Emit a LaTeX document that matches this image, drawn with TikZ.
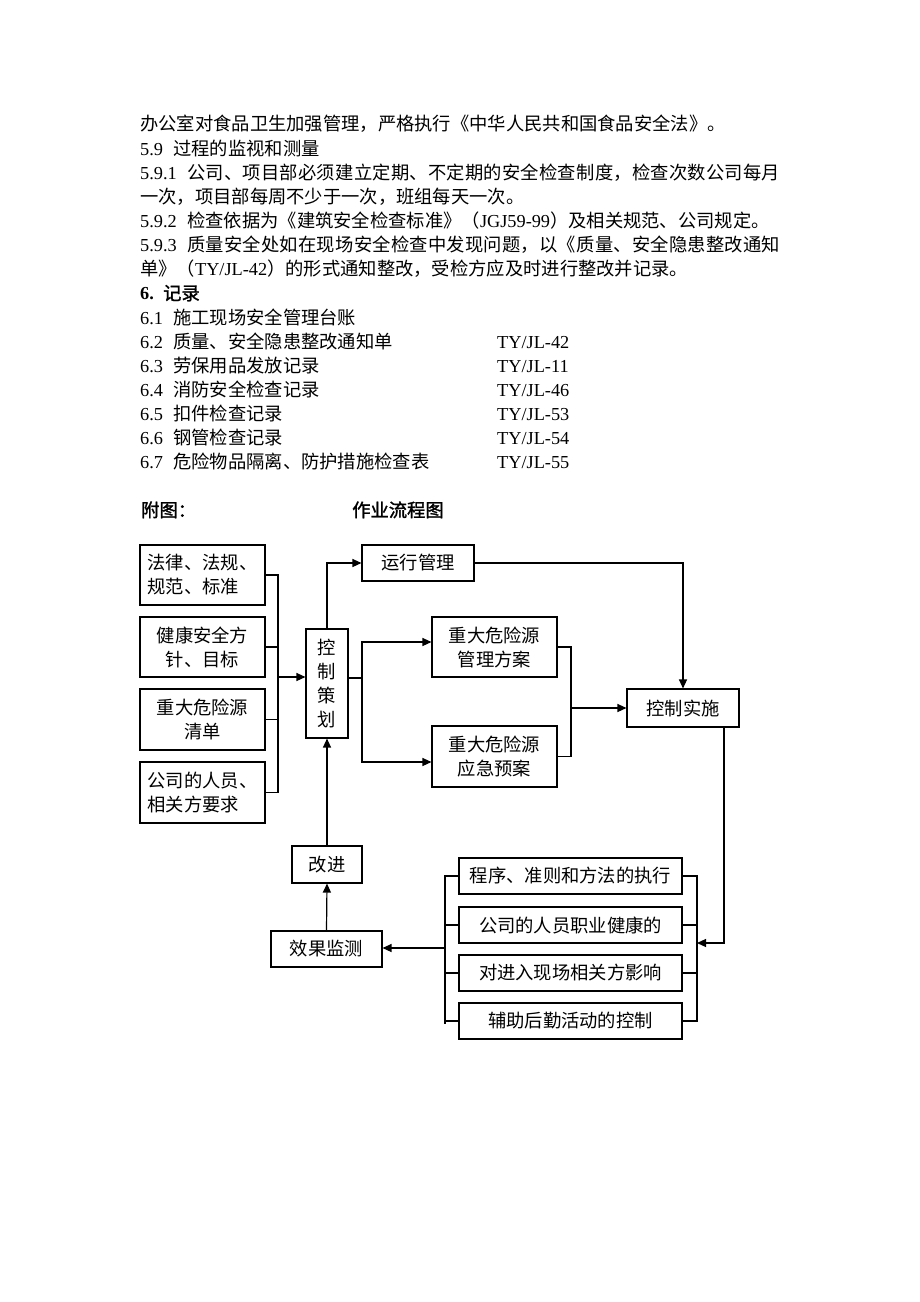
\documentclass[tikz,border=0pt]{standalone}
\usepackage{fontspec}
\setmainfont{Liberation Serif}
\newfontfamily\cj{Noto Sans CJK SC}
\newfontfamily\cjj{Noto Sans CJK SC}[LetterSpace=1.3]
\newfontfamily\cjb{Noto Sans CJK SC}[FakeBold=1.5]
\usetikzlibrary{arrows.meta}
\begin{document}
\begin{tikzpicture}[x=1pt,y=-1pt,
  txt/.style={anchor=west,inner sep=0pt,font=\fontsize{18.3}{24}\selectfont,text height=15.8pt,text depth=2.2pt},
  box/.style={draw,line width=1.1pt,inner sep=0pt,font=\fontsize{18.3}{24}\selectfont\cj,align=center},
  ln/.style={line width=1.2pt},
  arr/.style={ln,-{Triangle[length=9pt,width=8pt]}}]
\useasboundingbox[fill=white] (0,0) rectangle (920,1302);

% ---------- body text ----------
\node[txt] (t1) at (140,124) {\cj 办公室对食品卫生加强管理，严格执行《中华人民共和国食品安全法》。};
\node[txt] (t2n) at (140,148.2) {5.9};
\node[txt] (t2) at (173,148.2) {\cj 过程的监视和测量};
\node[txt] (t3n) at (140,172.3) {5.9.1};
\node[txt] (t3) at (187,172.3) {\cjj 公司、项目部必须建立定期、不定期的安全检查制度，检查次数公司每月};
\node[txt] (t4) at (140,196.5) {\cj 一次，项目部每周不少于一次，班组每天一次。};
\node[txt] (t5n) at (140,220.6) {5.9.2};
\node[txt] (t5) at (187,220.6) {{\cj 检查依据为《建筑安全检查标准》（}JGJ59-99{\cj ）及相关规范、公司规定。}};
\node[txt] (t6n) at (140,244.8) {5.9.3};
\node[txt] (t6) at (187,244.8) {\cjj 质量安全处如在现场安全检查中发现问题，以《质量、安全隐患整改通知};
\node[txt] (t7) at (140,268.9) {{\cj 单》（}TY/JL-42{\cj ）的形式通知整改，受检方应及时进行整改并记录。}};
\node[txt] (t8n) at (140,293.1) {\bfseries 6.};
\node[txt] (t8) at (163,293.1) {\cjb 记录};

\node[txt] (r1n) at (140,317.2) {6.1};
\node[txt] (r1) at (173,317.2) {\cj 施工现场安全管理台账};
\node[txt] (r2n) at (140,341.4) {6.2};
\node[txt] (r2) at (173,341.4) {\cj 质量、安全隐患整改通知单};
\node[txt] (r2c) at (497,341.4) {TY/JL-42};
\node[txt] (r3n) at (140,365.5) {6.3};
\node[txt] (r3) at (173,365.5) {\cj 劳保用品发放记录};
\node[txt] (r3c) at (497,365.5) {TY/JL-11};
\node[txt] (r4n) at (140,389.7) {6.4};
\node[txt] (r4) at (173,389.7) {\cj 消防安全检查记录};
\node[txt] (r4c) at (497,389.7) {TY/JL-46};
\node[txt] (r5n) at (140,413.8) {6.5};
\node[txt] (r5) at (173,413.8) {\cj 扣件检查记录};
\node[txt] (r5c) at (497,413.8) {TY/JL-53};
\node[txt] (r6n) at (140,438) {6.6};
\node[txt] (r6) at (173,438) {\cj 钢管检查记录};
\node[txt] (r6c) at (497,438) {TY/JL-54};
\node[txt] (r7n) at (140,462.1) {6.7};
\node[txt] (r7) at (173,462.1) {\cj 危险物品隔离、防护措施检查表};
\node[txt] (r7c) at (497,462.1) {TY/JL-55};

\node[txt] (fig) at (141,510) {\cjb 附图：};
\node[txt] (title) at (352,510) {\cjb 作业流程图};

% ---------- flowchart boxes ----------
\node[box,align=left,minimum width=125pt,minimum height=60pt] (law) at (202.5,575) {法律、法规、\\规范、标准};
\node[box,minimum width=125pt,minimum height=60pt] (health) at (202.5,647) {健康安全方\\针、目标};
\node[box,minimum width=125pt,minimum height=61pt] (hazard) at (202.5,719.5) {重大危险源\\清单};
\node[box,align=left,minimum width=125pt,minimum height=61pt] (req) at (202.5,792.5) {公司的人员、\\相关方要求};

\node[box,minimum width=42pt,minimum height=109pt] (plan) at (327,683.5) {控\\制\\策\\划};
\node[box,minimum width=112pt,minimum height=36pt] (run) at (418,563) {运行管理};
\node[box,minimum width=125pt,minimum height=60pt] (mgmt) at (494.5,647) {重大危险源\\管理方案};
\node[box,minimum width=125pt,minimum height=61pt] (emerg) at (494.5,756.5) {重大危险源\\应急预案};
\node[box,minimum width=112pt,minimum height=38pt] (impl) at (683,708) {控制实施};

\node[box,minimum width=223pt,minimum height=36pt] (b1) at (570.5,876) {程序、准则和方法的执行};
\node[box,minimum width=223pt,minimum height=36pt] (b2) at (570.5,925) {公司的人员职业健康的};
\node[box,minimum width=223pt,minimum height=36pt] (b3) at (570.5,973) {对进入现场相关方影响};
\node[box,minimum width=223pt,minimum height=36pt] (b4) at (570.5,1021) {辅助后勤活动的控制};

\node[box,minimum width=111pt,minimum height=36pt] (monitor) at (326.5,949) {效果监测};
\node[box,minimum width=70pt,minimum height=37pt] (improve) at (327,864.5) {改进};

% ---------- connectors ----------
\coordinate (lb) at (278,677);
\draw[ln] (law.east) -- (law.east -| lb) -- (req.east -| lb) -- (req.east);
\draw[ln] (health.east) -- (health.east -| lb);
\draw[ln] (hazard.east) -- (hazard.east -| lb);
\draw[arr] (lb) -- (lb -| plan.west);

\draw[arr] (plan.north) |- (run.west);
\draw[arr] (run.east) -| (impl.north);

\coordinate (sp) at (362,678);
\coordinate (spt) at (362,642);
\coordinate (spb) at (362,762);
\draw[ln] (sp -| plan.east) -- (sp);
\draw[arr] (sp) |- (spt -| mgmt.west);
\draw[arr] (sp) |- (spb -| emerg.west);

\coordinate (rb) at (571,708);
\draw[ln] (mgmt.east) -| (rb) |- (emerg.east);
\draw[arr] (rb) -- (impl.west);

\coordinate (dn) at (724,943);
\coordinate (rbr) at (697,943);
\draw[arr] (impl.south -| dn) |- (rbr);
\draw[ln] (b1.east) -| (rbr) |- (b4.east);
\draw[ln] (b2.east) -- (b2.east -| rbr);
\draw[ln] (b3.east) -- (b3.east -| rbr);

\coordinate (lbb) at (445,948);
\coordinate (lbe) at (445,1024);
\draw[ln] (b1.west) -| (lbe);
\draw[ln] (b2.west) -- (b2.west -| lbb);
\draw[ln] (b3.west) -- (b3.west -| lbb);
\draw[ln] (b4.west) -- (b4.west -| lbb);
\draw[arr] (lbb) -- (lbb -| monitor.east);

\draw[arr] (monitor.north) -- (improve.south);
\draw[arr] (improve.north) -- (plan.south);
\end{tikzpicture}
\end{document}
